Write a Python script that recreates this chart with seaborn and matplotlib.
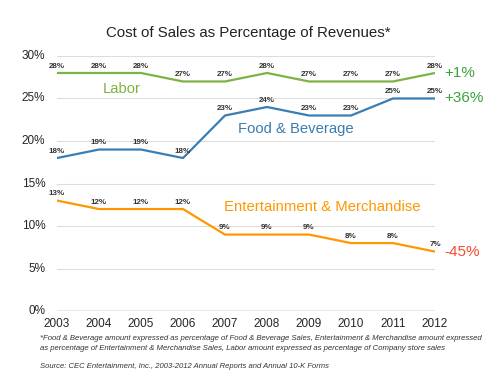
import pandas as pd
import matplotlib.pyplot as plt
import seaborn as sns

years = [2003, 2004, 2005, 2006, 2007, 2008, 2009, 2010, 2011, 2012]
labor = [28, 28, 28, 27, 27, 28, 27, 27, 27, 28]
food_bev = [18, 19, 19, 18, 23, 24, 23, 23, 25, 25]
ent_merch = [13, 12, 12, 12, 9, 9, 9, 8, 8, 7]
changes = ['+1%', '+36%', '-45%']
series_names = ['Labor', 'Food & Beverage', 'Entertainment & Merchandise']

df = pd.DataFrame({
    'Year': years * 3,
    'Pct': labor + food_bev + ent_merch,
    'Series': [s for s in series_names for _ in years],
})

colors = {'Labor': '#7cb342', 'Food & Beverage': '#3a7db3',
          'Entertainment & Merchandise': '#ff9800'}
change_colors = ['#3aa33a', '#3aa33a', '#f44a2e']

sns.set_theme(style="white")
plt.rcParams['font.family'] = ['Liberation Sans', 'DejaVu Sans']

fig = plt.figure(figsize=(5, 3.86), dpi=100)
ax = fig.add_axes([0.114, 0.194, 0.756, 0.661])

sns.lineplot(data=df, x='Year', y='Pct', hue='Series', palette=colors,
             linewidth=1.6, legend=False, ax=ax)

for y in range(5, 31, 5):
    ax.axhline(y, color='#dddddd', lw=0.8, zorder=0)
ax.axhline(0, color='#555555', lw=0.9, zorder=0)

ax.set_xlim(2003, 2012)
ax.set_ylim(0, 30)
ax.set_xticks(years)
ax.set_xticklabels([str(y) for y in years], fontsize=8.5)
ax.set_yticks(range(0, 31, 5))
ax.set_yticklabels([f'{y}%' for y in range(0, 31, 5)], fontsize=8.5, va='center')
ax.tick_params(axis='y', length=0, pad=8.5)
ax.tick_params(axis='x', length=0, pad=5)
for s in ax.spines.values():
    s.set_visible(False)
ax.set_xlabel('')
ax.set_ylabel('')

for vals in (labor, food_bev, ent_merch):
    for x, v in zip(years, vals):
        ax.annotate(f'{v}%', (x, v), xytext=(0, 2.5), textcoords='offset points',
                    ha='center', va='bottom', fontsize=5.8, fontweight='bold',
                    color='#333333', annotation_clip=False)

for vals, txt, c in zip((labor, food_bev, ent_merch), changes, change_colors):
    ax.annotate(txt, (years[-1], vals[-1]), xytext=(7, 0), textcoords='offset points',
                ha='left', va='center', fontsize=11, color=c, annotation_clip=False)

ax.text(2004.55, 26.1, 'Labor', color=colors['Labor'], fontsize=10.7, ha='center', va='center')
ax.text(2008.69, 21.4, 'Food & Beverage', color=colors['Food & Beverage'], fontsize=10.7,
        ha='center', va='center')
ax.text(2009.31, 12.2, 'Entertainment & Merchandise', color=colors['Entertainment & Merchandise'],
        fontsize=10.7, ha='center', va='center')

fig.text(0.496, 1 - 33 / 386, 'Cost of Sales as Percentage of Revenues*', ha='center',
         va='center', fontsize=10.8, color='#222222')
fig.text(0.08, 1 - 339 / 386,
         '*Food & Beverage amount expressed as percentage of Food & Beverage Sales, Entertainment & Merchandise amount expressed',
         fontsize=5.6, style='italic', va='center', color='#333333')
fig.text(0.08, 1 - 348 / 386,
         'as percentage of Entertainment & Merchandise Sales, Labor amount expressed as percentage of Company store sales',
         fontsize=5.6, style='italic', va='center', color='#333333')
fig.text(0.08, 1 - 366 / 386,
         'Source: CEC Entertainment, Inc., 2003-2012 Annual Reports and Annual 10-K Forms',
         fontsize=5.5, style='italic', va='center', color='#333333')

plt.savefig('out.png', dpi=100)
